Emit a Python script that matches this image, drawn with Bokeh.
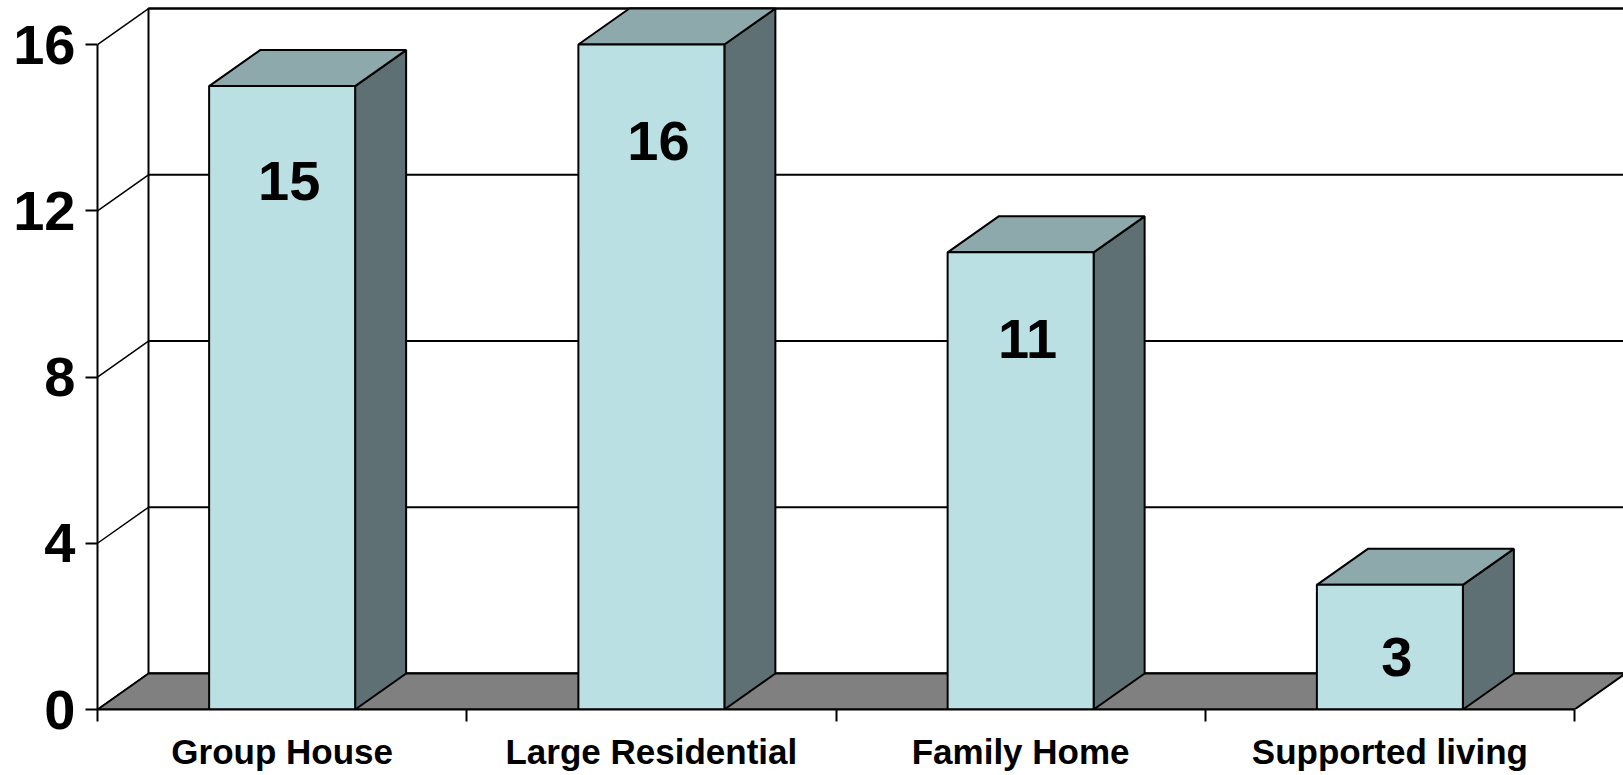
from bokeh.plotting import figure
from bokeh.models import FixedTicker, Range1d, ColumnDataSource
from bokeh.embed import file_html
from bokeh.resources import INLINE
from bokeh.core.properties import value as pv

# ---- data ----
categories = ["Group House", "Large Residential", "Family Home", "Supported living"]
values = [15, 16, 11, 3]
y_ticks = [0, 4, 8, 12, 16]

# ---- layout constants (pixels) ----
W, H = 1623, 775
LEFT, BOTTOM = 97, 66
PX_PER_CAT = 369.25
PX_PER_UNIT = 41.56
DX = 51 / PX_PER_CAT
DY = 36 / PX_PER_UNIT
BAR_W = 146 / PX_PER_CAT
FONT = "Liberation Sans"

n = len(categories)
ymax = max(y_ticks)

p = figure(width=W, height=H, output_backend="svg", toolbar_location=None,
           x_range=Range1d(0, (W - LEFT) / PX_PER_CAT),
           y_range=Range1d(0, (H - BOTTOM) / PX_PER_UNIT),
           min_border_left=LEFT, min_border_right=0, min_border_top=0,
           min_border_bottom=BOTTOM)
p.outline_line_color = None
p.xgrid.visible = False
p.ygrid.visible = False
p.background_fill_color = "white"
p.border_fill_color = "white"

# back wall
p.patch([DX, n + DX, n + DX, DX], [DY, DY, ymax + DY, ymax + DY],
        fill_color="white", line_color="black", line_width=2)
# gridlines on back wall and diagonals on side wall
p.segment(x0=[DX] * len(y_ticks), y0=[t + DY for t in y_ticks],
          x1=[n + DX] * len(y_ticks), y1=[t + DY for t in y_ticks],
          line_color="black", line_width=2)
p.segment(x0=[0] * len(y_ticks), y0=y_ticks,
          x1=[DX] * len(y_ticks), y1=[t + DY for t in y_ticks],
          line_color="black", line_width=1.5)
# floor
p.patch([0, n, n + DX, DX], [0, 0, DY, DY],
        fill_color="#808080", line_color="black", line_width=2)

# bars
for i, v in enumerate(values):
    c = i + 0.5
    x0, x1 = c - BAR_W / 2, c + BAR_W / 2
    # right side
    p.patch([x1, x1 + DX, x1 + DX, x1], [0, DY, v + DY, v],
            fill_color="#5E7073", line_color="black", line_width=2)
    # top
    p.patch([x0, x1, x1 + DX, x0 + DX], [v, v, v + DY, v + DY],
            fill_color="#8EA9AB", line_color="black", line_width=2)
    # front
    p.quad(left=x0, right=x1, bottom=0, top=v,
           fill_color="#BAE0E3", line_color="black", line_width=2)

# data labels
src = ColumnDataSource(dict(x=[i + 0.5 for i in range(n)],
                            y=[v * 0.955 - 1.6 for v in values],
                            t=[str(v) for v in values]))
p.text(x="x", y="y", text="t", source=src, text_font=pv(FONT),
       text_font_style="bold", text_font_size="56px", text_align="center",
       text_baseline="middle", x_offset=7, text_color="black")

# y axis
ya = p.yaxis[0]
ya.ticker = FixedTicker(ticks=y_ticks)
ya.bounds = (0, ymax)
ya.axis_line_width = 2
ya.major_tick_line_width = 2
ya.major_tick_out = 12
ya.major_tick_in = 0
ya.minor_tick_out = 0
ya.minor_tick_in = 0
ya.major_label_standoff = 10
ya.major_label_text_font = FONT
ya.major_label_text_font_style = "bold"
ya.major_label_text_font_size = "56px"
ya.major_label_text_color = "black"

# x axis
xa = p.xaxis[0]
xa.ticker = FixedTicker(ticks=[i + 0.5 for i in range(n)], minor_ticks=list(range(n + 1)))
xa.major_label_overrides = {i + 0.5: cat for i, cat in enumerate(categories)}
xa.bounds = (0, n)
xa.axis_line_width = 2
xa.major_tick_line_color = None
xa.major_tick_out = 12
xa.major_tick_in = 0
xa.minor_tick_out = 12
xa.minor_tick_in = 0
xa.minor_tick_line_width = 2
xa.minor_tick_line_color = "black"
xa.major_label_standoff = 10
xa.major_label_text_font = FONT
xa.major_label_text_font_style = "bold"
xa.major_label_text_font_size = "35px"
xa.major_label_text_color = "black"

open("out.html", "w").write(file_html(p, INLINE))
